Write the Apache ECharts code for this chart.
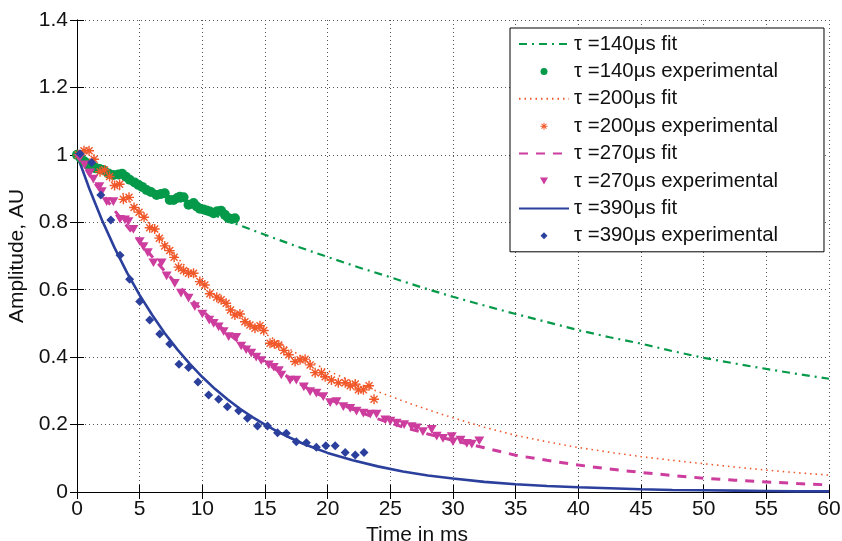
<!DOCTYPE html>
<html>
<head>
<meta charset="utf-8">
<script src="https://cdn.jsdelivr.net/npm/echarts@6/dist/echarts.min.js"></script>
<style>
  html, body { margin: 0; padding: 0; background: #fff; }
  #chart { width: 842px; height: 541px; }
</style>
</head>
<body>
<div id="chart"></div>
<script>
// Decay curves: fitted exponentials and measured amplitudes for four time constants.

const xTicks = [0, 5, 10, 15, 20, 25, 30, 35, 40, 45, 50, 55, 60];
const yTicks = [0, 0.2, 0.4, 0.6, 0.8, 1, 1.2, 1.4];

const seriesNames = [
  'τ =140μs fit', 'τ =140μs experimental',
  'τ =200μs fit', 'τ =200μs experimental',
  'τ =270μs fit', 'τ =270μs experimental',
  'τ =390μs fit', 'τ =390μs experimental'
];

// tau = 140 us
const fit140T = [0, 2.5, 5, 7.5, 10, 12.5, 15, 17.5, 20, 22.5, 25, 27.5, 30, 32.5, 35, 37.5, 40, 42.5, 45, 47.5, 50, 52.5, 55, 57.5, 60];
const fit140Y = [1, 0.956, 0.913, 0.873, 0.835, 0.798, 0.763, 0.729, 0.697, 0.666, 0.637, 0.607, 0.579, 0.553, 0.528, 0.504, 0.48, 0.459, 0.44, 0.418, 0.398, 0.381, 0.365, 0.35, 0.336];
const exp140T = [0, 0.3, 0.6, 0.9, 1.2, 1.5, 1.8, 2.1, 2.5, 2.9, 3.3, 3.6, 3.9, 4.2, 4.6, 4.9, 5.2, 5.55, 5.9, 6.35, 6.7, 7.0, 7.4, 7.7, 8.0, 8.2, 8.5, 8.9, 9.3, 9.55, 9.8, 10.1, 10.35, 10.6, 10.9, 11.2, 11.5, 11.8, 12.1, 12.35, 12.6];
const exp140Y = [1.0, 0.99, 0.98, 0.97, 0.965, 0.96, 0.958, 0.955, 0.945, 0.94, 0.942, 0.944, 0.935, 0.926, 0.918, 0.911, 0.905, 0.896, 0.89, 0.881, 0.884, 0.886, 0.866, 0.866, 0.872, 0.876, 0.874, 0.852, 0.857, 0.847, 0.84, 0.838, 0.835, 0.832, 0.827, 0.833, 0.834, 0.822, 0.812, 0.81, 0.812];

// tau = 200 us
const fit200T = [0, 1, 2, 3, 4, 5, 6, 7, 8, 9, 10, 11, 12, 13, 14, 15, 16, 17, 18, 19, 20, 22, 24, 26, 28, 30, 32.5, 35, 37.5, 40, 42.5, 45, 47.5, 50, 52.5, 55, 57.5, 60];
const fit200Y = [1, 0.985, 0.955, 0.915, 0.87, 0.83, 0.785, 0.74, 0.695, 0.655, 0.62, 0.585, 0.553, 0.524, 0.497, 0.47, 0.447, 0.423, 0.4, 0.38, 0.36, 0.327, 0.298, 0.27, 0.244, 0.22, 0.192, 0.168, 0.149, 0.132, 0.118, 0.105, 0.094, 0.084, 0.074, 0.065, 0.057, 0.05];
const exp200T = [0.1, 0.56, 0.96, 1.36, 1.84, 2.2, 2.6, 3.0, 3.4, 3.7, 4.15, 4.55, 4.95, 5.35, 5.8, 6.2, 6.57, 7.0, 7.4, 7.75, 8.1, 8.5, 8.9, 9.3, 9.8, 10.2, 10.6, 11.15, 11.5, 11.9, 12.25, 12.6, 13.0, 13.4, 13.8, 14.2, 14.6, 14.9, 15.4, 15.75, 16.1, 16.5, 16.9, 17.4, 17.8, 18.2, 18.6, 19.0, 19.5, 19.8, 20.3, 20.85, 21.4, 21.8, 22.2, 22.45, 22.85, 23.3, 23.7];
const exp200Y = [1.0, 1.012, 1.012, 0.987, 0.95, 0.955, 0.936, 0.909, 0.913, 0.868, 0.874, 0.844, 0.83, 0.815, 0.784, 0.78, 0.753, 0.73, 0.716, 0.696, 0.667, 0.657, 0.649, 0.649, 0.624, 0.614, 0.588, 0.578, 0.57, 0.56, 0.54, 0.525, 0.528, 0.505, 0.495, 0.486, 0.493, 0.479, 0.441, 0.44, 0.436, 0.42, 0.407, 0.387, 0.392, 0.394, 0.377, 0.354, 0.354, 0.342, 0.332, 0.324, 0.324, 0.315, 0.32, 0.303, 0.303, 0.315, 0.275];

// tau = 270 us
const fit270T = [0, 1, 2, 3, 4, 5, 6, 7, 8, 9, 10, 11, 12, 13, 14, 15, 16, 17, 18, 19, 20, 22, 24, 26, 28, 30, 32.5, 35, 37.5, 40, 42.5, 45, 47.5, 50, 52.5, 55, 57.5, 60];
const fit270Y = [1, 0.94, 0.885, 0.835, 0.788, 0.742, 0.698, 0.655, 0.615, 0.577, 0.538, 0.504, 0.472, 0.442, 0.413, 0.386, 0.36, 0.338, 0.316, 0.295, 0.277, 0.245, 0.217, 0.193, 0.172, 0.153, 0.131, 0.109, 0.094, 0.08, 0.068, 0.058, 0.049, 0.041, 0.035, 0.03, 0.025, 0.021];
const exp270T = [0.2, 0.6, 1.04, 1.3, 1.78, 1.97, 2.37, 2.9, 3.43, 3.83, 4.1, 4.5, 5.0, 5.3, 5.65, 6.1, 6.75, 7.15, 7.8, 8.3, 8.9, 9.4, 10.0, 10.55, 10.9, 11.3, 11.7, 12.1, 12.7, 13.1, 13.5, 13.9, 14.3, 14.7, 15.3, 15.7, 16.1, 16.3, 17.0, 17.5, 18.1, 18.6, 19.1, 19.65, 20.2, 20.7, 21.25, 21.8, 22.3, 22.85, 23.4, 23.9, 24.6, 25.0, 25.5, 26.1, 26.7, 27.1, 27.6, 28.3, 28.7, 29.2, 29.9, 30.0, 30.6, 31.1, 31.5, 32.1];
const exp270Y = [0.99, 0.97, 0.947, 0.928, 0.906, 0.891, 0.861, 0.861, 0.809, 0.807, 0.802, 0.779, 0.743, 0.728, 0.71, 0.68, 0.68, 0.641, 0.619, 0.59, 0.575, 0.55, 0.528, 0.51, 0.5, 0.49, 0.476, 0.461, 0.459, 0.433, 0.422, 0.412, 0.4, 0.39, 0.377, 0.37, 0.36, 0.347, 0.332, 0.332, 0.312, 0.298, 0.293, 0.283, 0.265, 0.268, 0.253, 0.248, 0.24, 0.234, 0.231, 0.231, 0.214, 0.21, 0.204, 0.2, 0.194, 0.19, 0.179, 0.186, 0.166, 0.159, 0.164, 0.149, 0.154, 0.144, 0.142, 0.152];

// tau = 390 us
const fit390T = [0, 1, 2, 3, 4, 5, 6, 7, 8, 9, 10, 11, 12, 13, 14, 15, 16, 17, 18, 19, 20, 22, 24, 26, 28, 30, 32.5, 35, 37.5, 40, 42.5, 45, 47.5, 50, 52.5, 55, 57.5, 60];
const fit390Y = [1, 0.898, 0.806, 0.724, 0.65, 0.584, 0.525, 0.471, 0.423, 0.38, 0.341, 0.306, 0.275, 0.247, 0.222, 0.2, 0.179, 0.161, 0.144, 0.13, 0.116, 0.094, 0.076, 0.061, 0.049, 0.04, 0.03, 0.023, 0.018, 0.014, 0.011, 0.008, 0.006, 0.005, 0.004, 0.003, 0.002, 0.002];
const exp390T = [0.24, 1.17, 1.9, 2.7, 3.43, 4.2, 5.0, 5.8, 6.6, 7.4, 8.14, 8.9, 9.65, 10.5, 11.3, 12.0, 12.9, 13.6, 14.4, 15.2, 16.0, 16.7, 17.5, 18.3, 19.1, 19.85, 20.6, 21.4, 22.2, 22.9];
const exp390Y = [1.003, 0.977, 0.881, 0.807, 0.702, 0.631, 0.565, 0.51, 0.469, 0.439, 0.379, 0.369, 0.326, 0.288, 0.275, 0.253, 0.241, 0.219, 0.196, 0.196, 0.176, 0.174, 0.149, 0.146, 0.133, 0.137, 0.137, 0.117, 0.11, 0.117];

const colGreen = '#05994a';
const colOrange = '#f0582a';
const colMagenta = '#cc3d9e';
const colBlue = '#2b3f9c';

const FONT = "'Liberation Sans', Arial, Helvetica, sans-serif";

const pairs = (xs, ys) => xs.map((x, i) => [x, ys[i]]);

// marker shapes
const STAR = 'path://M0,4.3L10,4.3L10,5.7L0,5.7Z M4.3,0L5.7,0L5.7,10L4.3,10Z M1,2L2,1L9,8L8,9Z M8,1L9,2L2,9L1,8Z';
const TRI_DOWN = 'path://M0,0L10,0L5,8.7Z';
const DIAMOND = 'path://M5,0L10,5L5,10L0,5Z';

function fitSeries(name, xs, ys, color, width, dash) {
  return {
    name, type: 'line', data: pairs(xs, ys), showSymbol: false, symbol: 'none',
    lineStyle: { color, width, type: dash, cap: 'butt' },
    // transparent item colour keeps the legend icon a bare line
    itemStyle: { color: 'rgba(0,0,0,0)' }, silent: true, animation: false, z: 3
  };
}
function expSeries(name, xs, ys, color, symbol, size) {
  return {
    name, type: 'scatter', data: pairs(xs, ys), symbol, symbolSize: size,
    symbolKeepAspect: true,
    itemStyle: { color, opacity: 1 }, silent: true, animation: false, z: 3
  };
}

const chart = echarts.init(document.getElementById('chart'), null, { renderer: 'canvas' });

const gridDots = { show: true, lineStyle: { color: '#555', width: 1, type: [1, 3] } };

chart.setOption({
  backgroundColor: '#ffffff',
  animation: false,
  textStyle: { fontFamily: FONT },
  grid: { left: 77, right: 13, top: 20, bottom: 49, containLabel: false, outerBoundsMode: 'none' },
  legend: {
    orient: 'vertical',
    left: 510, top: 28,
    padding: [6, 46, 6, 8],
    backgroundColor: '#ffffff',
    borderColor: '#000', borderWidth: 1, borderRadius: 0,
    itemWidth: 50, itemHeight: 7, itemGap: 7.4,
    textStyle: { fontFamily: FONT, fontSize: 20.4, color: '#111', lineHeight: 20 },
    data: seriesNames,
    selectedMode: false
  },
  xAxis: [
    {
      type: 'value', min: 0, max: 60, interval: 5,
      name: 'Time in ms', nameLocation: 'middle', nameGap: 28,
      nameTextStyle: { fontFamily: FONT, fontSize: 21, color: '#111', padding: [0, 72, 0, 0] },
      axisLine: { show: true, lineStyle: { color: '#000', width: 1 } },
      axisTick: { show: true, inside: true, length: 7, lineStyle: { color: '#000' } },
      axisLabel: { fontFamily: FONT, fontSize: 21, color: '#111', margin: 7,
        formatter: v => (xTicks.includes(v) ? String(v) : '') },
      splitLine: gridDots
    },
    {
      type: 'value', min: 0, max: 60, interval: 5, position: 'top',
      axisLine: { show: true, lineStyle: { color: '#000', width: 1 } },
      axisTick: { show: true, inside: true, length: 7, lineStyle: { color: '#000' } },
      axisLabel: { show: false }, splitLine: { show: false }
    }
  ],
  yAxis: [
    {
      type: 'value', min: 0, max: 1.4, interval: 0.2,
      name: 'Amplitude, AU', nameLocation: 'middle', nameGap: 46, nameRotate: 90,
      nameTextStyle: { fontFamily: FONT, fontSize: 21, color: '#111' },
      axisLine: { show: true, lineStyle: { color: '#000', width: 1 } },
      axisTick: { show: true, inside: true, length: 7, lineStyle: { color: '#000' } },
      axisLabel: { fontFamily: FONT, fontSize: 21, color: '#111', margin: 9,
        formatter: v => {
          const t = yTicks.find(k => Math.abs(k - v) < 1e-6);
          return t === undefined ? '' : String(t);
        } },
      splitLine: gridDots
    },
    {
      type: 'value', min: 0, max: 1.4, interval: 0.2, position: 'right',
      axisLine: { show: true, lineStyle: { color: '#000', width: 1 } },
      axisTick: { show: true, inside: true, length: 7, lineStyle: { color: '#000' } },
      axisLabel: { show: false }, splitLine: { show: false }
    }
  ],
  series: [
    fitSeries(seriesNames[0], fit140T, fit140Y, colGreen, 2.2, [8, 5, 2, 5]),
    expSeries(seriesNames[1], exp140T, exp140Y, colGreen, 'circle', 10),
    fitSeries(seriesNames[2], fit200T, fit200Y, colOrange, 1.6, [1.5, 4]),
    expSeries(seriesNames[3], exp200T, exp200Y, colOrange, STAR, 10),
    fitSeries(seriesNames[4], fit270T, fit270Y, colMagenta, 3, [9, 8]),
    expSeries(seriesNames[5], exp270T, exp270Y, colMagenta, TRI_DOWN, 10),
    fitSeries(seriesNames[6], fit390T, fit390Y, colBlue, 2.6, 'solid'),
    expSeries(seriesNames[7], exp390T, exp390Y, colBlue, DIAMOND, 9)
  ]
});
</script>
</body>
</html>
